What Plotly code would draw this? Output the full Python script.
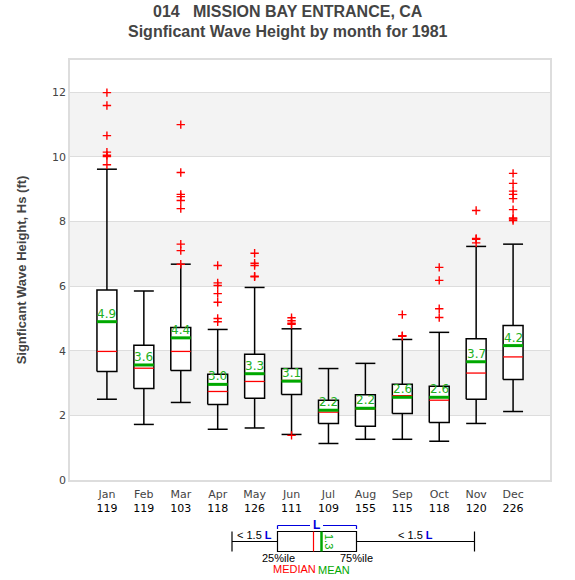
import plotly.graph_objects as go

months = ["Jan", "Feb", "Mar", "Apr", "May", "Jun", "Jul", "Aug", "Sep", "Oct", "Nov", "Dec"]
counts = [119, 119, 103, 118, 126, 111, 109, 155, 115, 118, 120, 226]
lower_whisker = [2.50, 1.72, 2.40, 1.57, 1.61, 1.41, 1.13, 1.26, 1.26, 1.20, 1.75, 2.12]
q1 = [3.36, 2.83, 3.39, 2.34, 2.53, 2.65, 1.75, 1.66, 2.06, 1.78, 2.50, 3.11]
median = [3.98, 3.46, 3.98, 2.74, 3.05, 3.08, 2.10, 2.20, 2.61, 2.47, 3.31, 3.81]
mean = [4.90, 3.56, 4.40, 2.96, 3.29, 3.06, 2.16, 2.22, 2.56, 2.56, 3.66, 4.16]
q3 = [5.88, 4.17, 4.72, 3.27, 3.89, 3.45, 2.47, 2.64, 2.96, 2.90, 4.37, 4.78]
upper_whisker = [9.62, 5.85, 6.68, 4.66, 5.96, 4.68, 3.45, 3.61, 4.35, 4.57, 7.23, 7.30]
outliers = [
    [11.99, 11.59, 10.66, 10.15, 10.05, 10.01, 9.76],
    [],
    [11.0, 9.52, 8.84, 8.77, 8.65, 8.40, 7.30, 7.10, 6.68],
    [6.64, 6.10, 6.02, 5.77, 5.50, 5.00, 4.90],
    [7.02, 6.71, 6.64, 6.31, 6.29],
    [5.02, 4.93, 4.85, 4.82, 1.38],
    [],
    [],
    [5.12, 4.47, 4.45],
    [6.58, 6.18, 5.30, 5.03],
    [8.34, 7.48, 7.45, 7.34],
    [9.49, 9.18, 8.94, 8.84, 8.71, 8.37, 8.11, 8.08, 8.03],
]
yticks = [0, 2, 4, 6, 8, 10, 12]

GREEN = "#00a800"
RED = "#ff0000"
HW = 0.27

xs = list(range(1, len(months) + 1))

# box rectangles
bx, by = [], []
for x, a, b in zip(xs, q1, q3):
    bx += [x - HW, x + HW, x + HW, x - HW, x - HW, None]
    by += [a, a, b, b, a, None]

# whiskers and caps
wx, wy = [], []
for x, lo, a, b, hi in zip(xs, lower_whisker, q1, q3, upper_whisker):
    wx += [x, x, None, x, x, None, x - HW, x + HW, None, x - HW, x + HW, None]
    wy += [b, hi, None, a, lo, None, hi, hi, None, lo, lo, None]

mx, my = [], []
for x, m in zip(xs, median):
    mx += [x - HW, x + HW, None]
    my += [m, m, None]

ex, ey = [], []
for x, m in zip(xs, mean):
    ex += [x - HW, x + HW, None]
    ey += [m, m, None]

ox, oy = [], []
for x, vals in zip(xs, outliers):
    for v in vals:
        ox.append(x)
        oy.append(v)

fig = go.Figure()
fig.add_trace(go.Scatter(x=wx, y=wy, mode="lines", line=dict(color="black", width=1.5),
                         hoverinfo="skip", showlegend=False))
fig.add_trace(go.Scatter(x=bx, y=by, mode="lines", fill="toself", fillcolor="white",
                         line=dict(color="black", width=1.5), hoverinfo="skip", showlegend=False))
fig.add_trace(go.Scatter(x=mx, y=my, mode="lines", line=dict(color=RED, width=1.3),
                         hoverinfo="skip", showlegend=False))
fig.add_trace(go.Scatter(x=ex, y=ey, mode="lines", line=dict(color=GREEN, width=3),
                         hoverinfo="skip", showlegend=False))
fig.add_trace(go.Scatter(x=ox, y=oy, mode="markers",
                         marker=dict(symbol="cross-thin", size=6, line=dict(color=RED, width=1.4)),
                         hoverinfo="skip", showlegend=False))

shapes = []
for lo in [2, 6, 10]:
    shapes.append(dict(type="rect", xref="paper", yref="y", x0=0, x1=1, y0=lo, y1=lo + 2,
                       fillcolor="#f3f3f3", line=dict(width=0), layer="below"))

# legend diagram (pixel -> paper conversion)
L, T, W, H = 70, 60, 480, 420
def px(v):
    return (v - L) / W
def py(v):
    return (T + H - v) / H

def seg(x0, y0, x1, y1, color="black", width=1.2):
    shapes.append(dict(type="line", xref="paper", yref="paper", x0=px(x0), y0=py(y0),
                       x1=px(x1), y1=py(y1), line=dict(color=color, width=width)))

seg(232, 531.5, 232, 551.5)
seg(232, 541.5, 277.5, 541.5)
seg(356.5, 541.5, 474.5, 541.5)
seg(474.5, 531.5, 474.5, 551.5)
shapes.append(dict(type="rect", xref="paper", yref="paper", x0=px(277.5), x1=px(356.5),
                   y0=py(551.5), y1=py(531.5), line=dict(color="black", width=1.2)))
seg(313.5, 531.5, 313.5, 551.5, RED, 1.2)
seg(321.5, 531.5, 321.5, 551.5, GREEN, 2.5)
seg(277.5, 525.5, 310, 525.5, "#0000dd", 1.2)
seg(323, 525.5, 356.5, 525.5, "#0000dd", 1.2)
seg(277.5, 525.5, 277.5, 529, "#0000dd", 1.2)
seg(356.5, 525.5, 356.5, 529, "#0000dd", 1.2)

annotations = []
# mean value labels, anchored above the mean line
for x, m in zip(xs, mean):
    annotations.append(dict(xref="x", yref="y", x=x, y=m, text=f"{m:.1f}", showarrow=False,
                            xanchor="center", yanchor="bottom", yshift=-1,
                            font=dict(color="#22b022", size=12, family="DejaVu Sans")))

def txt(x, y, s, color="black", size=11, angle=0):
    annotations.append(dict(xref="paper", yref="paper", x=px(x), y=py(y), text=s,
                            showarrow=False, textangle=angle,
                            font=dict(color=color, size=size, family="Liberation Sans"),
                            xanchor="center", yanchor="middle"))

txt(287.5, 12, "<b>014   MISSION BAY ENTRANCE, CA</b>", "#444444", 16)
txt(287.5, 31, "<b>Signficant Wave Height by month for 1981</b>", "#444444", 16)

txt(316.5, 524.5, "<b>L</b>", "#0000dd", 12)
txt(254, 535, "&lt; 1.5 <b><span style='color:#0000dd'>L</span></b>", "black", 11)
txt(415, 535, "&lt; 1.5 <b><span style='color:#0000dd'>L</span></b>", "black", 11)
txt(329, 541, "1.3", GREEN, 11, angle=90)
txt(278, 558, "25%ile", "black", 11)
txt(356, 558, "75%ile", "black", 11)
txt(294, 569, "MEDIAN", RED, 11)
txt(334, 570, "MEAN", GREEN, 11)

fig.update_layout(
    width=575, height=580,
    margin=dict(l=70, r=25, t=60, b=100),
    paper_bgcolor="white", plot_bgcolor="white",
    shapes=shapes, annotations=annotations,
    font=dict(family="DejaVu Sans", color="#444444"),
)
fig.update_xaxes(range=[0, 13], tickmode="array", tickvals=xs,
                 ticktext=[f"{m}<br><span style='color:black'>{c}</span>" for m, c in zip(months, counts)],
                 tickfont=dict(size=11, family="DejaVu Sans", color="#444444"),
                 ticklabelstandoff=3,
                 showgrid=False, zeroline=False, showline=True, linecolor="#dddddd",
                 linewidth=1.5, mirror=True, ticks="")
fig.update_yaxes(range=[0, 13], tickmode="array", tickvals=yticks,
                 tickfont=dict(size=11, family="DejaVu Sans", color="#444444"),
                 showgrid=True, gridcolor="#dddddd", gridwidth=1.2, zeroline=False,
                 showline=True, linecolor="#dddddd", linewidth=1.5, mirror=True, ticks="",
                 title=dict(text="<b>Signficant Wave Height, Hs (ft)</b>",
                            font=dict(size=13, family="Liberation Sans", color="#444444"),
                            standoff=22))

fig.write_html("out.html", config={"displayModeBar": False},
               post_script="document.body.style.margin='0';document.body.style.padding='0';")
